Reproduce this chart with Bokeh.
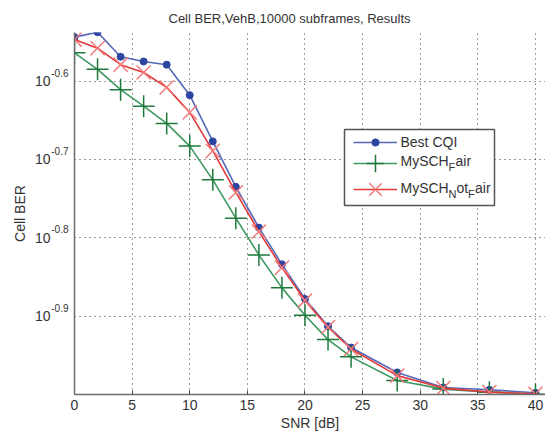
from bokeh.plotting import figure
from bokeh.models import (Range1d, FixedTicker, Label, Legend, LegendItem, ColumnDataSource,
                          BoxAnnotation, LogAxis)
from bokeh.embed import file_html
from bokeh.resources import INLINE

# ---- data ----
snr = [0, 2, 4, 6, 8, 10, 12, 14, 16, 18, 20, 22, 24, 28, 32, 36, 40]
best_cqi = [0.2858, 0.2900, 0.2698, 0.2661, 0.2636, 0.2410, 0.2104, 0.1841, 0.1633,
            0.1466, 0.1324, 0.1222, 0.1148, 0.1067, 0.1021, 0.1014, 0.1005]
mysch_fair = [0.2729, 0.2600, 0.2449, 0.2333, 0.2218, 0.2075, 0.1879, 0.1679, 0.1507,
              0.1368, 0.1262, 0.1175, 0.1117, 0.1042, 0.1016, 0.1007, 0.1001]
mysch_notfair = [0.2838, 0.2767, 0.2636, 0.2576, 0.2466, 0.2291, 0.2046, 0.1811, 0.1614,
                 0.1452, 0.1318, 0.1219, 0.1143, 0.1057, 0.1019, 0.1007, 0.1002]
x_ticks = [0, 5, 10, 15, 20, 25, 30, 35, 40]
y_tick_exps = ["-0.6", "-0.7", "-0.8", "-0.9"]
y_ticks = [10 ** float(e) for e in y_tick_exps]

FONT = "Liberation Sans"
TXT = "#333333"
X0, X1 = 0, 40.87
Y0, Y1 = 0.1, 10 ** -0.538
SUP_SHIFT = 10 ** (8.5 / 785.0)   # raise exponent labels ~8px above their tick
sup_ticks = [t * SUP_SHIFT for t in y_ticks]

p = figure(width=545, height=437, output_backend="svg", toolbar_location=None,
           y_axis_type="log",
           x_range=Range1d(X0, X1), y_range=Range1d(Y0, Y1),
           min_border_left=74, min_border_right=0, min_border_top=32, min_border_bottom=43)
p.outline_line_color = None
p.background_fill_color = "white"
p.border_fill_color = "white"

# title
p.title.text = "Cell BER,VehB,10000 subframes, Results"
p.title.text_font = FONT
p.title.text_font_size = "13px"
p.title.text_font_style = "normal"
p.title.text_color = TXT
p.title.align = "left"
p.title.offset = 94
p.title.standoff = 14

def style_axis(ax, size="14px"):
    ax.axis_line_color = "#6e6e6e"
    ax.axis_line_width = 1.5
    ax.major_tick_line_color = "#444444"
    ax.major_tick_in = 4
    ax.major_tick_out = 0
    ax.minor_tick_line_color = None
    ax.major_label_text_font = FONT
    ax.major_label_text_font_size = size
    ax.major_label_text_color = TXT
    ax.axis_label_text_font = FONT
    ax.axis_label_text_font_size = "14px"
    ax.axis_label_text_font_style = "normal"
    ax.axis_label_text_color = TXT

# x axis
xa = p.xaxis[0]
style_axis(xa)
xa.ticker = FixedTicker(ticks=x_ticks)
xa.major_label_standoff = 5
xa.axis_label = "SNR [dB]"
xa.axis_label_standoff = 2

# inner y axis: exponents (superscripts)
ya = p.yaxis[0]
style_axis(ya, "10px")
ya.ticker = FixedTicker(ticks=sup_ticks, minor_ticks=[])
ya.major_label_overrides = {t: e for t, e in zip(sup_ticks, y_tick_exps)}
ya.major_tick_line_color = None
ya.major_label_standoff = 6

# outer y axis: the "10" bases and the axis title
yb = LogAxis(ticker=FixedTicker(ticks=y_ticks, minor_ticks=[]))
style_axis(yb)
yb.axis_line_color = None
yb.major_tick_line_color = None
yb.major_label_overrides = {t: "10" for t in y_ticks}
yb.major_label_standoff = -2
yb.axis_label = "Cell BER"
yb.axis_label_standoff = 4
p.add_layout(yb, "left")

# grid
p.ygrid[0].ticker = FixedTicker(ticks=y_ticks, minor_ticks=[])
for g in (p.xgrid[0], p.ygrid[0]):
    g.grid_line_color = "#222222"
    g.grid_line_dash = "1 4"
    g.grid_line_width = 1
    g.grid_line_alpha = 0.9

src = ColumnDataSource(dict(snr=snr, best=best_cqi, fair=mysch_fair, notfair=mysch_notfair))

# series
l1 = p.line("snr", "best", source=src, line_color="#5468b8", line_width=1.6)
m1 = p.scatter("snr", "best", source=src, marker="circle", size=7,
               fill_color="#2c45a0", line_color="#2c45a0")
l2 = p.line("snr", "fair", source=src, line_color="#3d9960", line_width=1.6)
m2 = p.scatter("snr", "fair", source=src, marker="cross", size=22,
               line_color="#1e7a3c", line_width=1.5, fill_color=None)
l3 = p.line("snr", "notfair", source=src, line_color="#e23a3a", line_width=1.6)
m3 = p.scatter("snr", "notfair", source=src, marker="x", size=20,
               line_color="#f27a7a", line_width=1.5, fill_color=None)

# legend box (frame-relative pixels)
p.add_layout(BoxAnnotation(left=270, right=420, bottom=189, top=265,
                           left_units="screen", right_units="screen",
                           bottom_units="screen", top_units="screen",
                           fill_color="white", fill_alpha=1.0,
                           line_color="#555555", line_width=1.5, line_alpha=1.0,
                           level="annotation"))

# legend texts with subscripts, anchored at the frame's bottom-left corner
def lab(dx, dy, text, size="14px"):
    p.add_layout(Label(x=X0, y=Y0, x_offset=dx, y_offset=dy, text=text,
                       text_font=FONT, text_font_size=size, text_color=TXT,
                       text_baseline="middle", text_align="left"))

lab(326, 253, "Best CQI")
lab(326, 234, "MySCH")
lab(374, 228, "F", "11px")
lab(381, 234, "air")
lab(326, 207, "MySCH")
lab(374, 201, "N", "11px")
lab(382, 207, "ot")
lab(393.5, 201, "F", "11px")
lab(400.5, 207, "air")

# one legend per row, so each sample can have its own height (marker size)
rows = [([l1, m1], 252.3, 18), ([l2, m2], 231.3, 52), ([l3, m3], 204.7, 48)]
for rends, cy, gh in rows:
    p.add_layout(Legend(items=[LegendItem(label=" ", renderers=rends)],
                        location=(279, cy - gh / 2), orientation="vertical",
                        glyph_width=44, glyph_height=gh, spacing=0, padding=0,
                        label_standoff=0, label_width=1, label_height=gh,
                        border_line_color=None, background_fill_alpha=0.0,
                        margin=0))

open("out.html", "w").write(file_html(p, INLINE))
